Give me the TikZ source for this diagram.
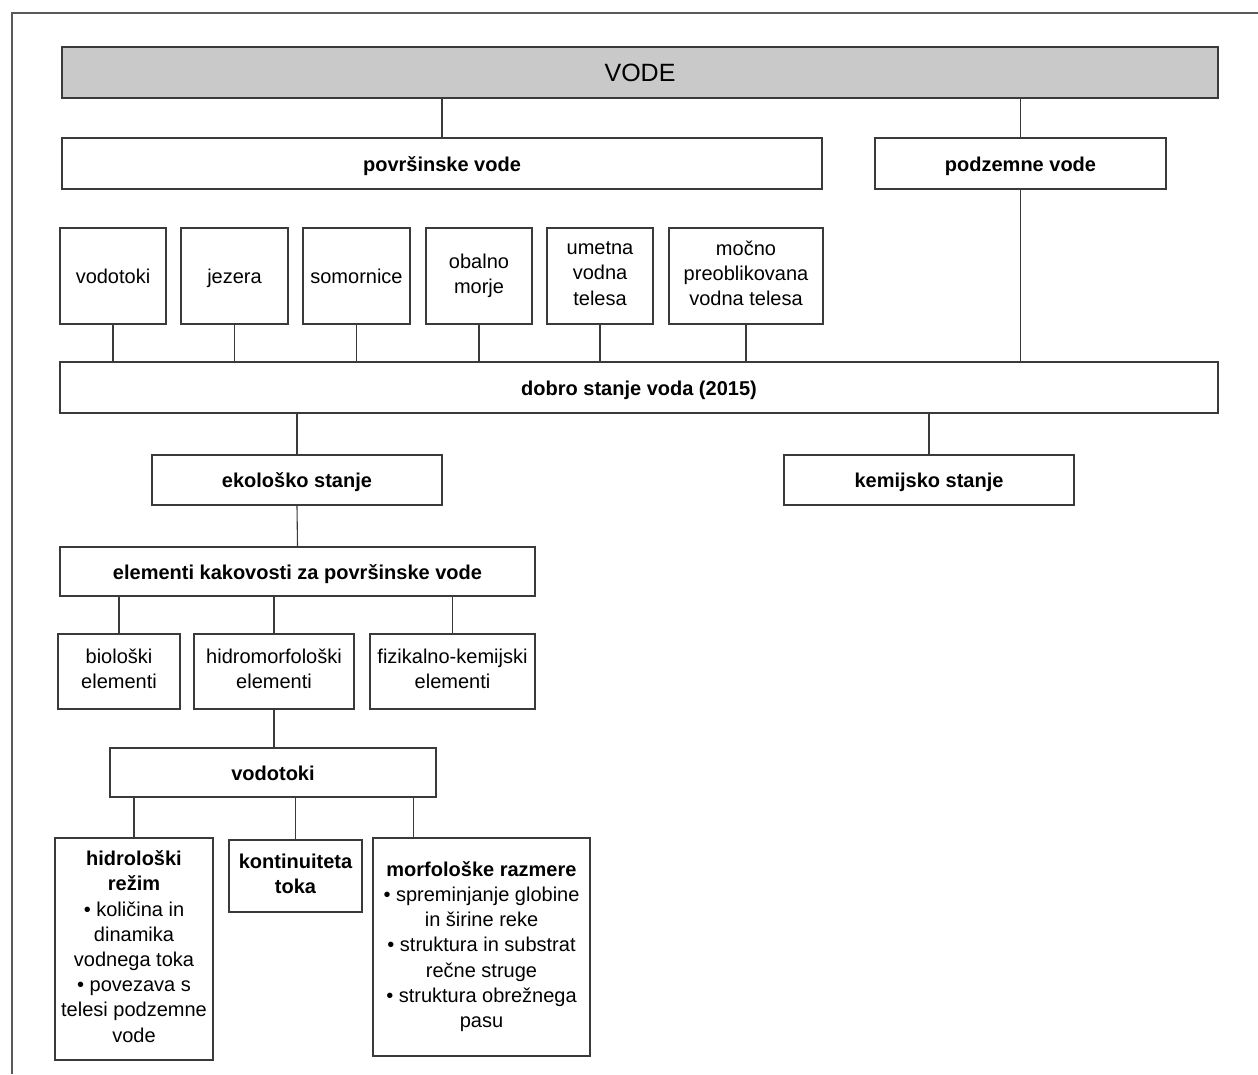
\documentclass[tikz,border=0pt]{standalone}
\usepackage{fontspec}
\setmainfont{Liberation Sans}
\usepackage{tikz}
\usetikzlibrary{positioning, calc}
\definecolor{BoxLine}{HTML}{3A3A3A}
\definecolor{HeadGray}{HTML}{C9C9C9}
\newcommand\topstrut{\rule{0pt}{20pt}}
\newcommand\botstrut{\rule[-5pt]{0pt}{5pt}}
\tikzset{
  % Box styles
  headbox/.style={rectangle, draw=BoxLine, line width=1.8pt, fill=HeadGray, inner sep=0pt, font=\fontsize{25}{28}\selectfont},
  boldbox/.style={rectangle, draw=BoxLine, line width=1.6pt, fill=white, inner sep=0pt, align=center, font=\fontsize{20}{25.4}\selectfont\bfseries,
    execute at begin node=\topstrut, execute at end node=\botstrut},
  plainbox/.style={rectangle, draw=BoxLine, line width=1.6pt, fill=white, inner sep=0pt, align=center, font=\fontsize{20}{25.2}\selectfont,
    execute at begin node=\topstrut, execute at end node=\botstrut},
  % Connector style
  link/.style={draw=BoxLine, line width=1.1pt},
  frameline/.style={draw=black!65, line width=1.6pt}
}

\begin{document}
\begin{tikzpicture}[x=1pt, y=-1pt]
  \useasboundingbox (0,0) rectangle (1258,1074);

  % Scan frame
  \draw[frameline] (12,1074) -- (12,13) -- (1258,13);

  % Top level
  \node[headbox, minimum width=1156, minimum height=51] (vode) at (640,72.5) {VODE};
  \node[boldbox, minimum width=760, minimum height=51] (pov) at (442,163.5) {površinske vode};
  \node[boldbox, minimum width=291, minimum height=51] (podz) at (1020.5,163.5) {podzemne vode};

  % Surface water types
  \node[plainbox, minimum width=106, minimum height=96] (vodotoki) at (113,276) {vodotoki};
  \node[plainbox, minimum width=107, minimum height=96] (jezera) at (234.5,276) {jezera};
  \node[plainbox, minimum width=107, minimum height=96] (somornice) at (356.5,276) {somornice};
  \node[plainbox, minimum width=106, minimum height=96] (obalno) at (479,276) {obalno\\morje};
  \node[plainbox, minimum width=106, minimum height=96] (umetna) at (600,276) {umetna\\vodna\\telesa};
  \node[plainbox, minimum width=154, minimum height=96] (mocno) at (746,276) {močno\\preoblikovana\\vodna telesa};

  % Goal
  \node[boldbox, minimum width=1158, minimum height=51] (dobro) at (639,387.5) {dobro stanje voda (2015)};
  \node[boldbox, minimum width=290, minimum height=50] (eko) at (297,480) {ekološko stanje};
  \node[boldbox, minimum width=290, minimum height=50] (kem) at (929,480) {kemijsko stanje};

  % Quality elements
  \node[boldbox, minimum width=475, minimum height=49] (elem) at (297.5,571.5) {elementi kakovosti za površinske vode};
  \node[plainbox, minimum width=122, minimum height=75] (bio) at (119,671.5) {biološki\\elementi};
  \node[plainbox, minimum width=160, minimum height=75] (hidro) at (274,671.5) {hidromorfološki\\elementi};
  \node[plainbox, minimum width=165, minimum height=75] (fiz) at (452.5,671.5) {fizikalno-kemijski\\elementi};

  % Watercourses
  \node[boldbox, minimum width=326, minimum height=49] (vt) at (273,772.5) {vodotoki};
  \node[plainbox, minimum width=158, minimum height=222] (hidrol) at (134,949)
    {{\bfseries hidrološki}\\{\bfseries režim}\\• količina in\\dinamika\\vodnega toka\\• povezava s\\telesi podzemne\\vode};
  \node[boldbox, minimum width=133, minimum height=72] (kont) at (295.5,876) {kontinuiteta\\toka};
  \node[plainbox, minimum width=217, minimum height=218] (morf) at (481.5,947)
    {{\bfseries morfološke razmere}\\• spreminjanje globine\\in širine reke\\• struktura in substrat\\rečne struge\\• struktura obrežnega\\pasu};

  % Connectors
  \draw[link] (pov.north |- vode.south) -- (pov.north);
  \draw[link] (podz.north |- vode.south) -- (podz.north);
  \draw[link] (podz.south) -- (podz.south |- dobro.north);
  \foreach \t in {vodotoki, jezera, somornice, obalno, umetna, mocno}
    \draw[link] (\t.south) -- (\t.south |- dobro.north);
  \draw[link] (eko.north |- dobro.south) -- (eko.north);
  \draw[link] (kem.north |- dobro.south) -- (kem.north);
  \draw[link] (eko.south) -- (elem.north);
  \foreach \t in {bio, hidro, fiz}
    \draw[link] (\t.north |- elem.south) -- (\t.north);
  \draw[link] (hidro.south) -- (hidro.south |- vt.north);
  \draw[link] (hidrol.north |- vt.south) -- (hidrol.north);
  \draw[link] (kont.north |- vt.south) -- (kont.north);
  \draw[link] ([xshift=-68]morf.north |- vt.south) -- ([xshift=-68]morf.north);
\end{tikzpicture}
\end{document}
